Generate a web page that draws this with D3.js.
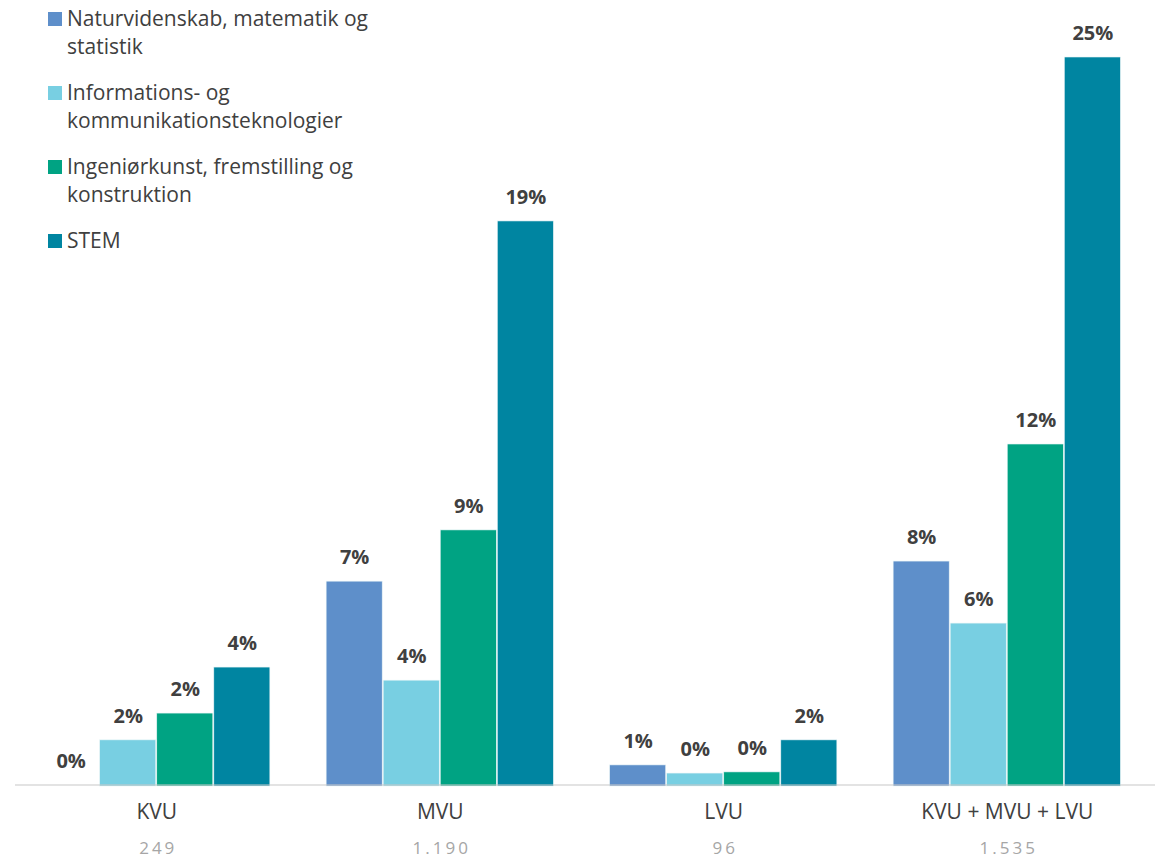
<!DOCTYPE html>
<html>
<head>
<meta charset="utf-8">
<script src="https://cdn.jsdelivr.net/npm/d3@7"></script>
<style>
  body { margin: 0; background: #fff; }
  text { font-family: "Open Sans", sans-serif; }
</style>
</head>
<body>
<div id="chart"></div>
<script>
// data
var groups = ["KVU", "MVU", "LVU", "KVU + MVU + LVU"];
var counts = ["249", "1.190", "96", "1.535"];
var seriesNames = [
  ["Naturvidenskab, matematik og", "statistik"],
  ["Informations- og", "kommunikationsteknologier"],
  ["Ingeniørkunst, fremstilling og", "konstruktion"],
  ["STEM"]
];
var naturvidenskab = [0, 7.0, 0.69, 7.69];
var ikt = [1.55, 3.6, 0.41, 5.56];
var ingenior = [2.47, 8.76, 0.45, 11.71];
var stem = [4.05, 19.37, 1.55, 25.0];
var colors = ["#5e8fca", "#78cfe2", "#00a383", "#0085a1"];

var series = [naturvidenskab, ikt, ingenior, stem];

draw_chart();

function draw_chart(){
  var width = 1155,
      height = 860;
  var baseY = 785;

  var svg = d3.select("#chart")
      .append("svg")
      .attr("width", width)
      .attr("height", height);

  var x0 = d3.scaleBand()
      .domain(groups)
      .range([15, 1149])
      .paddingInner(0.195)
      .paddingOuter(0.0975);

  var x1 = d3.scaleBand()
      .domain(d3.range(series.length))
      .range([0, x0.bandwidth()])
      .padding(0);

  var y = d3.scaleLinear()
      .domain([0, 25])
      .range([baseY, 57]);

  var rows = [];
  groups.forEach(function(g, gi){
    series.forEach(function(s, si){
      rows.push({g: g, s: si, v: s[gi]});
    });
  });

  // bars
  svg.append("g").selectAll("rect")
      .data(rows.filter(function(d){ return d.v > 0; }))
      .enter().append("rect")
      .attr("x", function(d){ return x0(d.g) + x1(d.s); })
      .attr("width", x1.bandwidth() - 1)
      .attr("y", function(d){ return y(d.v); })
      .attr("height", function(d){ return baseY + 1 - y(d.v); })
      .attr("fill", function(d){ return colors[d.s]; })
      .attr("stroke", "#e8f4f6")
      .attr("stroke-width", 0.6);

  // axis line
  svg.append("line")
      .attr("x1", 15).attr("x2", width)
      .attr("y1", baseY).attr("y2", baseY)
      .attr("stroke", "#c8c8c8")
      .attr("stroke-width", 1.2);

  // value labels
  svg.append("g").selectAll("text")
      .data(rows)
      .enter().append("text")
      .attr("x", function(d){ return x0(d.g) + x1(d.s) + x1.bandwidth()/2; })
      .attr("y", function(d){ return y(d.v) - 17; })
      .attr("text-anchor", "middle")
      .style("font-size", "20px")
      .style("font-weight", "bold")
      .style("fill", "#404040")
      .text(function(d){ return Math.round(d.v) + "%"; });

  // category labels
  var cat = svg.append("g");
  cat.selectAll(".cat")
      .data(groups)
      .enter().append("text")
      .attr("class", "cat")
      .attr("x", function(d){ return x0(d) + x0.bandwidth()/2; })
      .attr("y", 819)
      .attr("text-anchor", "middle")
      .style("font-size", "21px")
      .style("fill", "#404040")
      .text(function(d){ return d; });

  cat.selectAll(".cnt")
      .data(counts)
      .enter().append("text")
      .attr("class", "cnt")
      .attr("x", function(d, i){ return x0(groups[i]) + x0.bandwidth()/2 + 1.5; })
      .attr("y", 854)
      .attr("text-anchor", "middle")
      .style("font-size", "17px")
      .style("letter-spacing", "3px")
      .style("fill", "#a6a6a6")
      .text(function(d){ return d; });

  // legend
  var legend = svg.append("g");
  var itemTop = [12, 86, 160, 234];
  seriesNames.forEach(function(lines, i){
    var gItem = legend.append("g")
        .attr("transform", "translate(48," + itemTop[i] + ")");
    gItem.append("rect")
        .attr("width", 14).attr("height", 14)
        .attr("fill", colors[i]);
    lines.forEach(function(t, li){
      gItem.append("text")
          .attr("x", 19)
          .attr("y", 14 + li*28)
          .style("font-size", "21px")
          .style("fill", "#404040")
          .text(t);
    });
  });
}
</script>
</body>
</html>
